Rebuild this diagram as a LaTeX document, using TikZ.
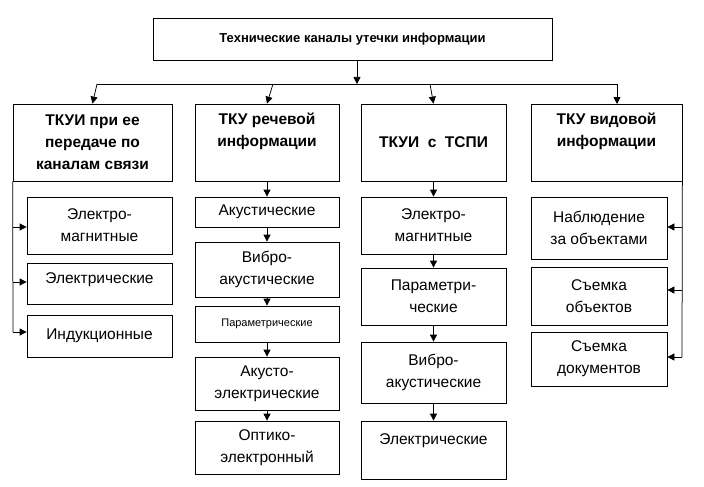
\documentclass[tikz,border=0pt]{standalone}
\usepackage{fontspec}
\setmainfont{Liberation Sans}
\usetikzlibrary{arrows.meta}
\tikzset{every picture/.style={line width=0.75pt}}
\tikzset{
  box/.style={draw, align=center, inner sep=1pt, font=\fontsize{15.5}{22}\selectfont},
  head/.style={box, font=\bfseries\fontsize{15.5}{22}\selectfont},
  arr/.style={-{Triangle[length=7pt,width=7pt]}}
}
\newcommand{\bx}[6]{\node[#1, minimum width=#4pt-#3pt, minimum height=#6pt-#5pt] (#2) at ({(#3+#4)/2}, {-(#5+#6)/2})}

\begin{document}
\begin{tikzpicture}[x=1pt, y=1pt]
        \useasboundingbox (0,0) rectangle (704,-487);
        \bx{head}{top}{153}{552}{18}{60} {\fontsize{13}{15}\selectfont Технические каналы утечки информации};
        \bx{head}{h1}{13}{172}{104}{181} {ТКУИ при ее\\передаче по\\каналам связи};
        \bx{head}{h2}{195}{339}{104}{181} {ТКУ речевой\\информации\\[4pt]};
        \bx{head}{h3}{361}{506}{104}{181} {ТКУИ\ \ с\ \ ТСПИ};
        \bx{head}{h4}{531}{682}{104}{181} {ТКУ видовой\\информации\\[4pt]};
        % channels of communication
        \bx{box}{a1}{27}{172}{197}{254} {Электро-\\магнитные};
        \bx{box}{a2}{27}{172}{263}{304} {Электрические\\[-12pt]};
        \bx{box}{a3}{27}{172}{315}{357} {Индукционные};
        % speech
        \bx{box}{b1}{195}{339}{197}{227} {Акустические};
        \bx{box}{b2}{195}{339}{242}{297} {Вибро-\\акустические};
        \bx{box}{b3}{195}{339}{306}{342} {\fontsize{11}{13}\selectfont Параметрические};
        \bx{box}{b4}{195}{339}{357}{410} {Акусто-\\электрические};
        \bx{box}{b5}{195}{339}{421}{474} {Оптико-\\электронный};
        % TSPI
        \bx{box}{c1}{361}{506}{197}{254} {Электро-\\магнитные};
        \bx{box}{c2}{361}{506}{268}{325} {Параметри-\\ческие};
        \bx{box}{c3}{361}{506}{342}{403} {Вибро-\\акустические};
        \bx{box}{c4}{361}{506}{421}{479} {Электрические\\[0pt]};
        % visual
        \bx{box}{d1}{531}{667}{197}{259} {Наблюдение\\за объектами};
        \bx{box}{d2}{531}{667}{267}{325} {Съемка\\объектов};
        \bx{box}{d3}{531}{667}{332}{386} {Съемка\\документов};
        \coordinate (bus) at (357,-84);
        \draw[arr] (top.south -| bus) -- (bus);
        \draw (97,-84) -- (617,-84);
        \draw[arr] (97,-84) -- (h1.north);
        \draw[arr] (273,-84) -- (h2.north);
        \draw[arr] (430,-84) -- (h3.north);
        \draw[arr] (617,-84) -- (617,-104);
        \draw (h1.south west) -- (13,-332);
        \draw (h4.south east) -- (682,-357);
        \foreach \n/\y in {a1/227, a2/282, a3/332}
            \draw[arr] (13,-\y) -- (\n.west |- 0,-\y);
        \foreach \n/\y in {d1/227, d2/290, d3/357}
            \draw[arr] (682,-\y) -- (\n.east |- 0,-\y);
        \draw[arr] (h2) -- (b1);
        \draw[arr] (b1) -- (b2);
        \draw[arr] (b2) -- (b3);
        \draw[arr] (b3) -- (b4);
        \draw[arr] (b4) -- (b5);
        \draw[arr] (h3) -- (c1);
        \draw[arr] (c1) -- (c2);
        \draw[arr] (c2) -- (c3);
        \draw[arr] (c3) -- (c4);
    \end{tikzpicture}
\end{document}
